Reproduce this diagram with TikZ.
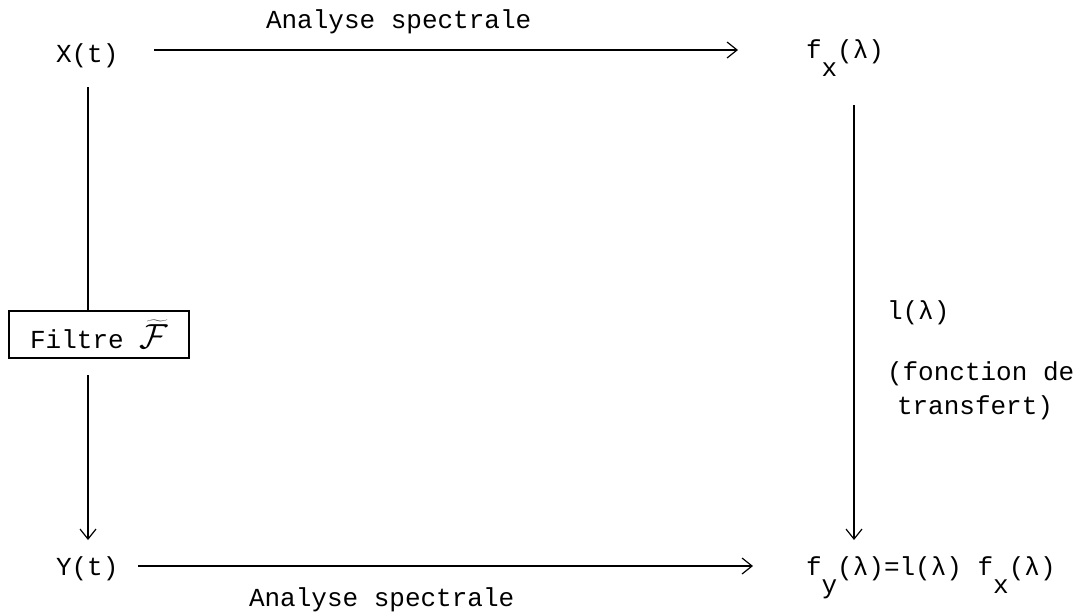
\documentclass[tikz,border=0pt]{standalone}
\usepackage{fontspec}
\usepackage{graphicx}
\setmonofont{Liberation Mono}
\usetikzlibrary{arrows.meta}
\newcommand{\lowsub}[1]{\raisebox{-18pt}{#1}}
\begin{document}
\begin{tikzpicture}[x=1pt,y=-1pt,
  every node/.style={inner sep=0pt, outer sep=0pt, font=\fontsize{26}{34}\selectfont\ttfamily},
  lbl/.style={anchor=base west},
  ln/.style={line width=1.2pt},
  arr/.style={line width=1.2pt, -{Straight Barb[length=10pt,width=16pt,line width=1.2pt]}},
  filterbox/.style={draw, line width=1.2pt, minimum width=180pt, minimum height=47pt}]
\useasboundingbox (0,0) rectangle (1084,614);
% nodes
\node[lbl] (X) at (56,62) {X(t)};
\node[lbl] (fx) at (806,58) {f\lowsub{x}(λ)};
\node[lbl] (Y) at (56,575) {Y(t)};
\node[lbl] (fy) at (806,575) {f\lowsub{y}(λ)=l(λ) f\lowsub{x}(λ)};
\node[lbl] (at1) at (266,28) {Analyse spectrale};
\node[lbl] (at2) at (249,606) {Analyse spectrale};
\node[filterbox] (F) at (99,334.5) {\raisebox{-2pt}{Filtre \scalebox{1.4}{$\widetilde{\mathcal{F}}$}}};
\node[lbl] (l) at (887,319) {l(λ)};
\node[lbl] (fc) at (887,380) {(fonction de};
\node[lbl] (tr) at (897,414) {transfert)};
% connector ends
\coordinate (t1) at (154,50);
\coordinate (t2) at (738,50);
\coordinate (b1) at (138,566);
\coordinate (b2) at (753,566);
\coordinate (xl) at (88,87);
\coordinate (xl2) at (88,375);
\coordinate (xl3) at (88,540);
\coordinate (r1) at (854,105);
\coordinate (r2) at (854,540);
% connectors
\draw[arr] (t1) -- (t2);
\draw[arr] (b1) -- (b2);
\draw[ln] (xl) -- (xl |- F.north);
\draw[arr] (xl2) -- (xl3);
\draw[arr] (r1) -- (r2);
\end{tikzpicture}
\end{document}
